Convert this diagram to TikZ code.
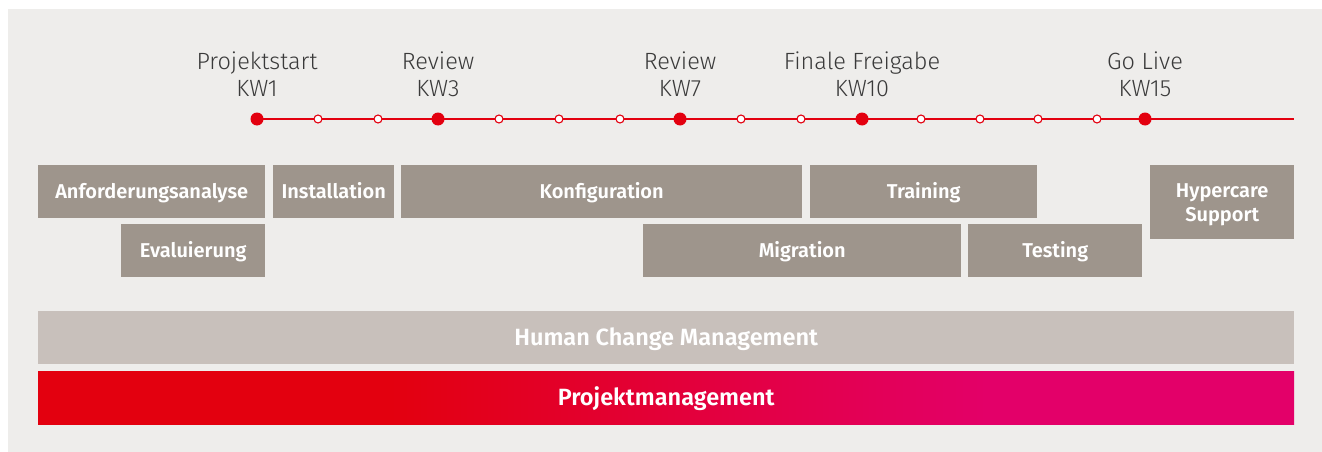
\documentclass[tikz,border=0pt]{standalone}
\usepackage{fontspec}
\setmainfont{Fira Sans}
\newfontfamily\lightfont{Fira Sans Light}
\newfontfamily\semifont{Fira Sans SemiBold}
\usepackage{tikz}
\usetikzlibrary{shapes, positioning}
\definecolor{hgrund}{HTML}{EEEDEB}
\definecolor{phasegrau}{HTML}{9E958C}
\definecolor{hcmgrau}{HTML}{C8C0BB}
\definecolor{krot}{HTML}{E3000F}
\definecolor{kmagenta}{HTML}{E30069}
\definecolor{schrift}{HTML}{3A3A3A}
\pgfdeclarehorizontalshading{pmverlauf}{100bp}{color(0bp)=(krot); color(39bp)=(krot); color(63bp)=(kmagenta); color(100bp)=(kmagenta)}
\tikzstyle{phase} = [fill=phasegrau, text=white, inner sep=0pt, minimum height=53, anchor=north west, font=\semifont\fontsize{20}{24}\selectfont, text height=18pt, text depth=4pt, align=center]
\tikzstyle{balken} = [text=white, inner sep=0pt, minimum height=53, anchor=north west, text height=20pt, text depth=5pt, font=\semifont\fontsize{23.5}{26}\selectfont]
\tikzstyle{meilenstein} = [circle, fill=krot, inner sep=0pt, minimum size=13]
\tikzstyle{woche} = [circle, draw=krot, fill=white, line width=1.1pt, inner sep=0pt, minimum size=8]
\tikzstyle{termin} = [anchor=south, inner sep=0pt, align=center, text=schrift, font=\lightfont\fontsize{23.5}{27}\selectfont]

\begin{document}
\begin{tikzpicture}[x=1pt, y=-1pt]
	\useasboundingbox (0,0) rectangle (1322,452);
	\fill[white] (0,0) rectangle (1322,452);
	\fill[hgrund] (8,9) rectangle (1322,452);
	% Zeitleiste
	\coordinate (tstart) at (257,119);
	\coordinate (tende) at (1294,119);
	\draw[krot, line width=1.4pt] (tstart) -- (tende);
	\node[meilenstein] (kw1) at (257,119) {};
	\node[woche] at (318,119) {};
	\node[woche] at (378,119) {};
	\node[meilenstein] (kw3) at (438,119) {};
	\node[woche] at (499,119) {};
	\node[woche] at (559,119) {};
	\node[woche] at (620,119) {};
	\node[meilenstein] (kw7) at (680,119) {};
	\node[woche] at (741,119) {};
	\node[woche] at (801,119) {};
	\node[meilenstein] (kw10) at (862,119) {};
	\node[woche] at (921,119) {};
	\node[woche] at (980,119) {};
	\node[woche] at (1038,119) {};
	\node[woche] at (1097,119) {};
	\node[meilenstein] (kw15) at (1145,119) {};
	\node[termin] at (257,97) {Projektstart\\KW1};
	\node[termin] at (438,97) {Review\\KW3};
	\node[termin] at (680,97) {Review\\KW7};
	\node[termin] at (862,97) {Finale Freigabe\\KW10};
	\node[termin] at (1145,97) {Go Live\\KW15};
	% Phasen
	\node[phase, minimum width=227] (anf) at (38,165) {Anforderungsanalyse};
	\node[phase, minimum width=121] (inst) at (273,165) {Installation};
	\node[phase, minimum width=401] (konf) at (401,165) {Konfiguration};
	\node[phase, minimum width=227] (train) at (810,165) {Training};
	\node[phase, minimum width=144, minimum height=74, text height=44pt, text depth=5pt] (hyper) at (1150,165) {Hypercare\\Support};
	\node[phase, minimum width=144] (eval) at (121,224) {Evaluierung};
	\node[phase, minimum width=318] (migr) at (643,224) {Migration};
	\node[phase, minimum width=174] (test) at (968,224) {Testing};
	% Querschnitt
	\node[balken, fill=hcmgrau, minimum width=1256] (hcm) at (38,311) {Human Change Management};
	\node[balken, shading=pmverlauf, minimum width=1256] (pm) at (38,371) {Projektmanagement};
\end{tikzpicture}
\end{document}
